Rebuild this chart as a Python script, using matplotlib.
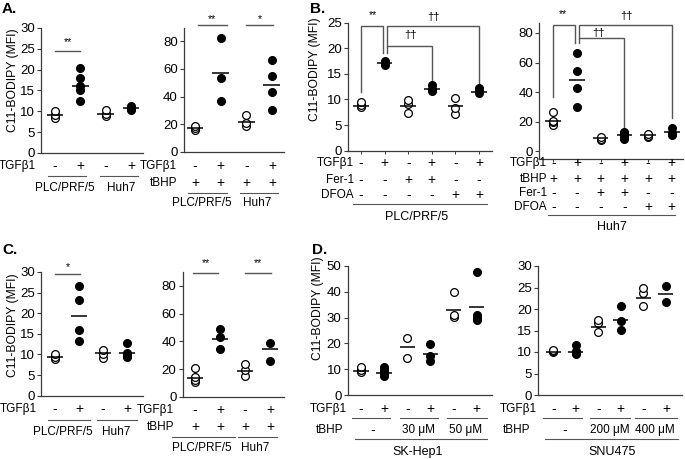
import matplotlib
matplotlib.use('Agg')
import matplotlib.pyplot as plt
from matplotlib import transforms

plt.rcParams['font.family'] = ['Liberation Sans', 'DejaVu Sans']

W, H = 685, 459
fig = plt.figure(figsize=(W / 100, H / 100), dpi=100)

# ---------------- data ----------------
A1_vals = [[8.4, 9.0, 10.0], [12.5, 15.0, 16.0, 18.0, 20.5], [8.8, 9.3, 10.3], [10.3, 10.7, 11.0, 11.3]]
A1_mean = [9.1, 16.1, 9.3, 10.8]
A2_vals = [[16.0, 17.2, 19.0], [36.5, 53.0, 82.0], [18.5, 21.0, 26.5], [30.0, 43.5, 54.5, 66.0]]
A2_mean = [17.2, 57.2, 21.3, 48.4]
B1_vals = [[8.6, 8.9, 9.6], [16.8, 17.2, 17.6], [7.3, 9.2, 9.9], [11.7, 12.1, 12.8], [7.2, 8.4, 10.3], [11.2, 11.6, 12.2]]
B1_mean = [8.8, 17.2, 8.8, 12.0, 8.7, 11.4]
B2_vals = [[17.5, 19.5, 20.5, 26.5], [29.7, 43.0, 54.5, 66.5], [7.5, 8.5, 10.0], [8.0, 10.0, 11.5, 13.0], [9.8, 10.5, 12.0], [11.0, 12.5, 16.0]]
B2_mean = [20.7, 48.5, 8.8, 11.0, 10.8, 13.0]
C1_vals = [[9.0, 9.5, 10.0], [13.2, 16.0, 23.2, 26.7], [9.1, 10.2, 11.0], [9.3, 9.7, 10.4, 12.9]]
C1_mean = [9.5, 19.4, 10.3, 10.3]
C2_vals = [[10.8, 12.0, 14.5, 20.8], [34.2, 42.9, 48.9], [14.9, 19.3, 23.5], [25.8, 38.5]]
C2_mean = [13.3, 41.4, 18.6, 34.4]
D1_vals = [[9.0, 9.5, 10.7], [7.5, 8.5, 9.7, 11.0], [14.5, 22.0], [13.2, 15.1, 19.6], [30.1, 31.0, 40.0], [29.0, 30.0, 31.0, 47.5]]
D1_mean = [9.3, 8.4, 18.7, 15.8, 32.9, 34.2]
D2_vals = [[9.9, 10.2, 10.4], [9.5, 10.3, 11.6], [14.7, 16.7, 17.4], [15.1, 17.3, 20.7], [20.7, 23.8, 24.8], [21.7, 25.3]]
D2_mean = [10.1, 10.1, 15.7, 17.4, 22.6, 23.4]

FILL4 = [False, True, False, True]
FILL6 = [False, True, False, True, False, True]

TGF4 = ['-', '+', '-', '+']
TGF6 = ['-', '+', '-', '+', '-', '+']
TBHP4 = ['+', '+', '+', '+']
TBHP6 = ['+'] * 6
FER = ['-', '-', '+', '+', '-', '-']
DFOA = ['-', '-', '-', '-', '+', '+']
D1_tbhp = ['-', '30 \u03bcM', '50 \u03bcM']
D2_tbhp = ['-', '200 \u03bcM', '400 \u03bcM']

YLAB = 'C11-BODIPY (MFI)'
LC = '#3a3a3a'


def fx(px):
    return px / W


def fy(py):
    return 1 - py / H


def make_ax(x0, x1, ytop, ybot, ylim, xlim, yticks, xticks=False):
    ax = fig.add_axes([fx(x0), fy(ybot), (x1 - x0) / W, (ybot - ytop) / H])
    ax.set_ylim(*ylim)
    ax.set_xlim(*xlim)
    ax.set_yticks(yticks)
    for s in ['top', 'right']:
        ax.spines[s].set_visible(False)
    for s in ['left', 'bottom']:
        ax.spines[s].set_color(LC)
        ax.spines[s].set_linewidth(0.9)
    ax.tick_params(axis='y', labelsize=9.5, length=3, width=0.8, pad=1.5, color=LC)
    n = int(round(xlim[1] - 0.5))
    if xticks:
        ax.set_xticks(range(1, n + 1))
        ax.tick_params(axis='x', length=2, width=0.7, color=LC, labelbottom=False)
    else:
        ax.set_xticks([])
    ax.patch.set_alpha(0)
    return ax


def draw(ax, vals, means, filled, hw=0.33):
    for i, (v, m, f) in enumerate(zip(vals, means, filled)):
        x = i + 1
        ax.plot([x] * len(v), v, 'o', ms=5.6, mfc='black' if f else 'white',
                mec='black', mew=0.9, clip_on=False, zorder=3)
        ax.hlines(m, x - hw, x + hw, color='black', lw=1.1, zorder=4)


def row(ax, label, ypx, xr, syms, positions=None, fs=8.5, sfs=10):
    tr = transforms.blended_transform_factory(ax.transData, fig.transFigure)
    fig.text(fx(xr), fy(ypx), label, ha='right', va='center', fontsize=fs)
    if positions is None:
        positions = range(1, len(syms) + 1)
    for x, s in zip(positions, syms):
        size = sfs if s in ('+', '-') else fs
        ax.text(x, fy(ypx), s, transform=tr, ha='center', va='center', fontsize=size, clip_on=False)


def hline_px(x0, x1, ypx, lw=0.8):
    fig.add_artist(plt.Line2D([fx(x0), fx(x1)], [fy(ypx), fy(ypx)], color='#555555', lw=lw,
                              transform=fig.transFigure))


def flabel(xpx, ypx, s, fs=8.5, **kw):
    fig.text(fx(xpx), fy(ypx), s, ha='center', va='center', fontsize=fs, **kw)


def sig(ax, x0, x1, y, label, ylab, fs=7.5):
    ax.plot([x0, x1], [y, y], color='#555555', lw=1.0, clip_on=False)
    ax.text((x0 + x1) / 2, ylab, label, ha='center', va='center', fontsize=fs, clip_on=False)


def bracket(ax, xs, ys):
    ax.plot(xs, ys, color='#555555', lw=1.0, clip_on=False, solid_joinstyle='miter')


# ---------------- Panel A ----------------
a1 = make_ax(41, 143, 28, 153, (0, 30), (0.447, 4.47), range(0, 31, 5))
draw(a1, A1_vals, A1_mean, FILL4)
sig(a1, 1.0, 2.0, 24.5, '**', 26.7)
row(a1, 'TGF\u03b21', 165.7, 36, TGF4)
hline_px(48, 86, 175.7)
hline_px(100, 138, 175.7)
flabel(65, 188, 'PLC/PRF/5')
flabel(121, 188, 'Huh7')

a2 = make_ax(184, 284, 28, 152, (0, 89.4), (0.571, 4.47), range(0, 81, 20))
draw(a2, A2_vals, A2_mean, FILL4)
sig(a2, 1.1, 2.25, 91.5, '**', 95.8)
sig(a2, 3.0, 4.05, 91.5, '*', 95.8)
row(a2, 'TGF\u03b21', 165.7, 177, TGF4)
row(a2, 'tBHP', 182.7, 177, TBHP4)
hline_px(188, 227, 192.7)
hline_px(240, 278, 192.7)
flabel(202, 203.3, 'PLC/PRF/5')
flabel(257, 203.3, 'Huh7')

# ---------------- Panel B ----------------
b1 = make_ax(348, 492, 22.7, 150.7, (0, 25), (0.449, 6.55), range(0, 26, 5), xticks=True)
draw(b1, B1_vals, B1_mean, FILL6)
bracket(b1, [1, 1, 1.92, 1.92], [11.5, 24.3, 24.3, 19.0])
bracket(b1, [2.1, 2.1, 6, 6], [19.0, 24.3, 24.3, 12.5])
bracket(b1, [2.1, 4, 4], [20.5, 20.5, 13.5])
b1.text(1.5, 26.5, '**', ha='center', va='center', fontsize=7.5, clip_on=False)
b1.text(4.06, 26.2, '\u2020\u2020', ha='center', va='center', fontsize=8, clip_on=False)
b1.text(3.08, 22.6, '\u2020\u2020', ha='center', va='center', fontsize=8, clip_on=False)
row(b1, 'TGF\u03b21', 163.3, 354, TGF6)
row(b1, 'Fer-1', 180, 354, FER)
row(b1, 'DFOA', 195, 354, DFOA)
hline_px(353, 487, 204)
flabel(417, 216.7, 'PLC/PRF/5', fs=9)

b2 = make_ax(539.3, 683, 22.7, 159.3, (-5.4, 86.9), (0.409, 6.477), range(0, 81, 20), xticks=True)
draw(b2, B2_vals, B2_mean, FILL6)
bracket(b2, [1, 1, 1.92, 1.92], [36.9, 85.4, 85.4, 73.0])
bracket(b2, [2.1, 2.1, 6, 6], [73.0, 85.4, 85.4, 22.3])
bracket(b2, [2.1, 4, 4], [76.4, 76.4, 15.5])
b2.text(1.42, 92.8, '**', ha='center', va='center', fontsize=7.5, clip_on=False)
b2.text(4.07, 91.5, '\u2020\u2020', ha='center', va='center', fontsize=8, clip_on=False)
b2.text(2.9, 79.8, '\u2020\u2020', ha='center', va='center', fontsize=8, clip_on=False)
row(b2, 'TGF\u03b21', 163.3, 547, TGF6)
row(b2, 'tBHP', 179, 547, TBHP6)
row(b2, 'Fer-1', 193.3, 547, FER)
row(b2, 'DFOA', 206.7, 547, DFOA)
hline_px(548, 675, 215)
flabel(612, 227.5, 'Huh7', fs=9)

# ---------------- Panel C ----------------
c1 = make_ax(41, 143, 272, 395.7, (0, 30), (0.417, 4.67), range(0, 31, 5))
draw(c1, C1_vals, C1_mean, FILL4)
sig(c1, 1.0, 2.04, 29.4, '*', 31.1)
row(c1, 'TGF\u03b21', 409, 37, TGF4)
hline_px(48, 90, 420)
hline_px(97, 137, 420)
flabel(63, 432.3, 'PLC/PRF/5')
flabel(116, 432.3, 'Huh7')

c2 = make_ax(182.7, 284, 271.7, 396.7, (0, 90.3), (0.508, 4.56), range(0, 81, 20))
draw(c2, C2_vals, C2_mean, FILL4)
sig(c2, 0.93, 1.93, 89.2, '**', 96.4)
sig(c2, 3.0, 4.03, 89.2, '**', 96.4)
row(c2, 'TGF\u03b21', 410, 174, TGF4)
row(c2, 'tBHP', 426.7, 174, TBHP4)
hline_px(172, 235, 436.7)
hline_px(238, 277, 436.7)
flabel(202, 448.3, 'PLC/PRF/5')
flabel(255, 448.3, 'Huh7')

# ---------------- Panel D ----------------
d1 = make_ax(347.7, 491.7, 266, 395, (0, 50), (0.425, 6.65), range(0, 51, 10))
draw(d1, D1_vals, D1_mean, FILL6)
row(d1, 'TGF\u03b21', 409, 347, TGF6)
hline_px(352, 390, 418.3)
hline_px(400, 438, 418.3)
hline_px(447, 487, 418.3)
row(d1, 'tBHP', 430, 343, D1_tbhp, positions=[1.5, 3.5, 5.5])
hline_px(355, 487, 439.3)
flabel(418, 451.7, 'SK-Hep1', fs=9)

d2 = make_ax(538.3, 681.7, 266, 395, (0, 30), (0.335, 6.70), range(0, 31, 5))
draw(d2, D2_vals, D2_mean, FILL6)
row(d2, 'TGF\u03b21', 409, 537, TGF6)
hline_px(543, 582, 418.3)
hline_px(590, 630, 418.3)
hline_px(635, 677, 418.3)
row(d2, 'tBHP', 430, 530, D2_tbhp, positions=[1.5, 3.5, 5.5])
hline_px(545, 678, 439.3)
flabel(612, 451.7, 'SNU475', fs=9)

# ---------------- labels ----------------
for xp, yp in [(13, 80), (315, 69), (13, 325), (318, 308)]:
    fig.text(fx(xp), fy(yp), YLAB, rotation=90, ha='center', va='center', fontsize=8.7)

for xp, yp, s in [(2, 9, 'A.'), (310, 9, 'B.'), (2, 250, 'C.'), (312, 250, 'D.')]:
    fig.text(fx(xp), fy(yp), s, ha='left', va='center', fontsize=11, fontweight='bold')

fig.savefig('out.png', dpi=100)
